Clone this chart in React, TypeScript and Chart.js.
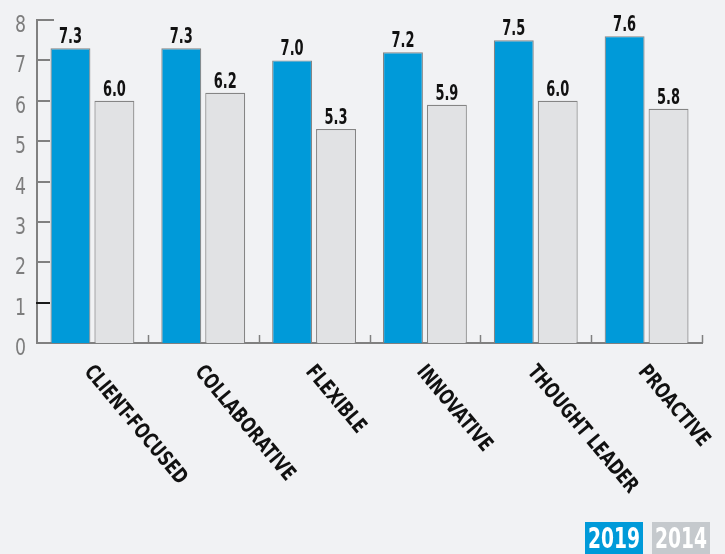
import React, { useEffect, useRef } from "react";
import { Chart, registerables } from "chart.js";

Chart.register(...registerables);

const categories = ["CLIENT-FOCUSED", "COLLABORATIVE", "FLEXIBLE", "INNOVATIVE", "THOUGHT LEADER", "PROACTIVE"];
const values2019 = [7.3, 7.3, 7.0, 7.2, 7.5, 7.6];
const values2014 = [6.0, 6.2, 5.3, 5.9, 6.0, 5.8];
const seriesLabels = ["2019", "2014"];
const yTicks = [0, 1, 2, 3, 4, 5, 6, 7, 8];

const COND = '"DejaVu Sans Condensed", "DejaVu Sans", sans-serif';
const BG = "#f1f2f4";
const BLUE = "#009ad9";
const GRAY = "#e1e2e4";
const AXIS = "#808080";

function scaleFor(ctx: any, font: string, sample: string, target: number) {
  ctx.font = font;
  const w = ctx.measureText(sample).width;
  return w > 0 ? target / w : 1;
}

function drawText(ctx: any, text: string, x: number, y: number, sx: number, align: string, rot = 0) {
  ctx.save();
  ctx.translate(x, y);
  if (rot) ctx.rotate(rot);
  ctx.scale(sx, 1);
  ctx.textAlign = align;
  ctx.textBaseline = "alphabetic";
  ctx.fillText(text, 0, 0);
  ctx.restore();
}

const customPlugin = {
  id: "custom",
  afterDraw(chart: any) {
    const ctx = chart.ctx;
    const x = chart.scales.x;
    const y = chart.scales.y;
    const area = chart.chartArea;
    ctx.save();
    // y tick marks inward
    ctx.lineWidth = 2;
    yTicks.forEach((v) => {
      if (v === 0) return;
      const py = Math.round(y.getPixelForValue(v));
      ctx.strokeStyle = v === 1 ? "#1a1a1a" : AXIS;
      ctx.beginPath();
      ctx.moveTo(area.left - 1, py);
      ctx.lineTo(area.left + (v === 8 ? 17 : 13), py);
      ctx.stroke();
    });
    // y tick labels
    const yFont = `300 23px ${COND}`;
    const ySx = scaleFor(ctx, yFont, "8", 11);
    ctx.fillStyle = "#7d7d7d";
    ctx.font = yFont;
    yTicks.forEach((v) => {
      const py = y.getPixelForValue(v);
      drawText(ctx, String(v), 26, py + 12, ySx, "right");
    });
    // x boundary ticks
    ctx.strokeStyle = AXIS;
    ctx.lineWidth = 1.5;
    const n = categories.length;
    const step = (area.right - area.left) / n;
    for (let i = 1; i <= n; i++) {
      const px = Math.round(area.left + step * i) + 0.5;
      ctx.beginPath();
      ctx.moveTo(px, area.bottom);
      ctx.lineTo(px, area.bottom - 8);
      ctx.stroke();
    }
    // value labels
    const vFont = `bold 21px ${COND}`;
    const vSx = scaleFor(ctx, vFont, "7.3", 23);
    ctx.fillStyle = "#111";
    ctx.font = vFont;
    chart.data.datasets.forEach((ds: any, di: number) => {
      const meta = chart.getDatasetMeta(di);
      meta.data.forEach((bar: any, i: number) => {
        drawText(ctx, ds.data[i].toFixed(1), bar.x, bar.y - 5, vSx, "center");
      });
    });
    // rotated category labels
    const cFont = `bold 21px ${COND}`;
    const cSx = scaleFor(ctx, cFont, categories[0], 148);
    ctx.fillStyle = "#111";
    ctx.font = cFont;
    categories.forEach((c, i) => {
      const px = x.getPixelForValue(i);
      drawText(ctx, c, px - 9, area.bottom + 29, cSx, "left", (50 * Math.PI) / 180);
    });
    // legend
    const boxes = [
      { label: seriesLabels[0], color: BLUE, x: 585 },
      { label: seriesLabels[1], color: "#c5c9cd", x: 652 },
    ];
    const lFont = `bold 29px ${COND}`;
    const lSx = scaleFor(ctx, lFont, "2019", 52);
    ctx.font = lFont;
    boxes.forEach((b) => {
      ctx.fillStyle = b.color;
      ctx.fillRect(b.x, 522, 58, 32);
      ctx.fillStyle = "#ffffff";
      drawText(ctx, b.label, b.x + 29, 548, lSx, "center");
    });
    ctx.restore();
  },
};

export default function App() {
  const ref = useRef<HTMLCanvasElement>(null);
  useEffect(() => {
    if (!ref.current) return;
    const chart = new Chart(ref.current, {
      type: "bar",
      data: {
        labels: categories,
        datasets: [
          {
            label: seriesLabels[0],
            data: values2019,
            backgroundColor: BLUE,
            borderColor: "#858585",
            borderWidth: 1.2,
            categoryPercentage: 88 / 111,
            barPercentage: 40 / 44,
          },
          {
            label: seriesLabels[1],
            data: values2014,
            backgroundColor: GRAY,
            borderColor: "#858585",
            borderWidth: 1.2,
            categoryPercentage: 88 / 111,
            barPercentage: 40 / 44,
          },
        ],
      },
      options: {
        animation: false,
        responsive: false,
        layout: { padding: { left: 0, right: 23, top: 20, bottom: 0 } },
        plugins: { legend: { display: false }, tooltip: { enabled: false } },
        scales: {
          x: {
            ticks: { display: false },
            grid: { display: false, drawTicks: false },
            border: { display: true, color: AXIS, width: 2 },
            afterFit: (s: any) => {
              s.height = 211;
            },
          },
          y: {
            min: 0,
            max: 8,
            ticks: { display: false, stepSize: 1 },
            grid: { display: false, drawTicks: false },
            border: { display: true, color: AXIS, width: 2 },
            afterFit: (s: any) => {
              s.width = 37;
            },
          },
        },
      },
      plugins: [customPlugin],
    });
    return () => chart.destroy();
  }, []);
  return (
    <div style={{ position: "fixed", left: 0, top: 0, width: 725, height: 554, background: BG }}>
      <canvas ref={ref} width={725} height={554} style={{ display: "block" }} />
    </div>
  );
}
